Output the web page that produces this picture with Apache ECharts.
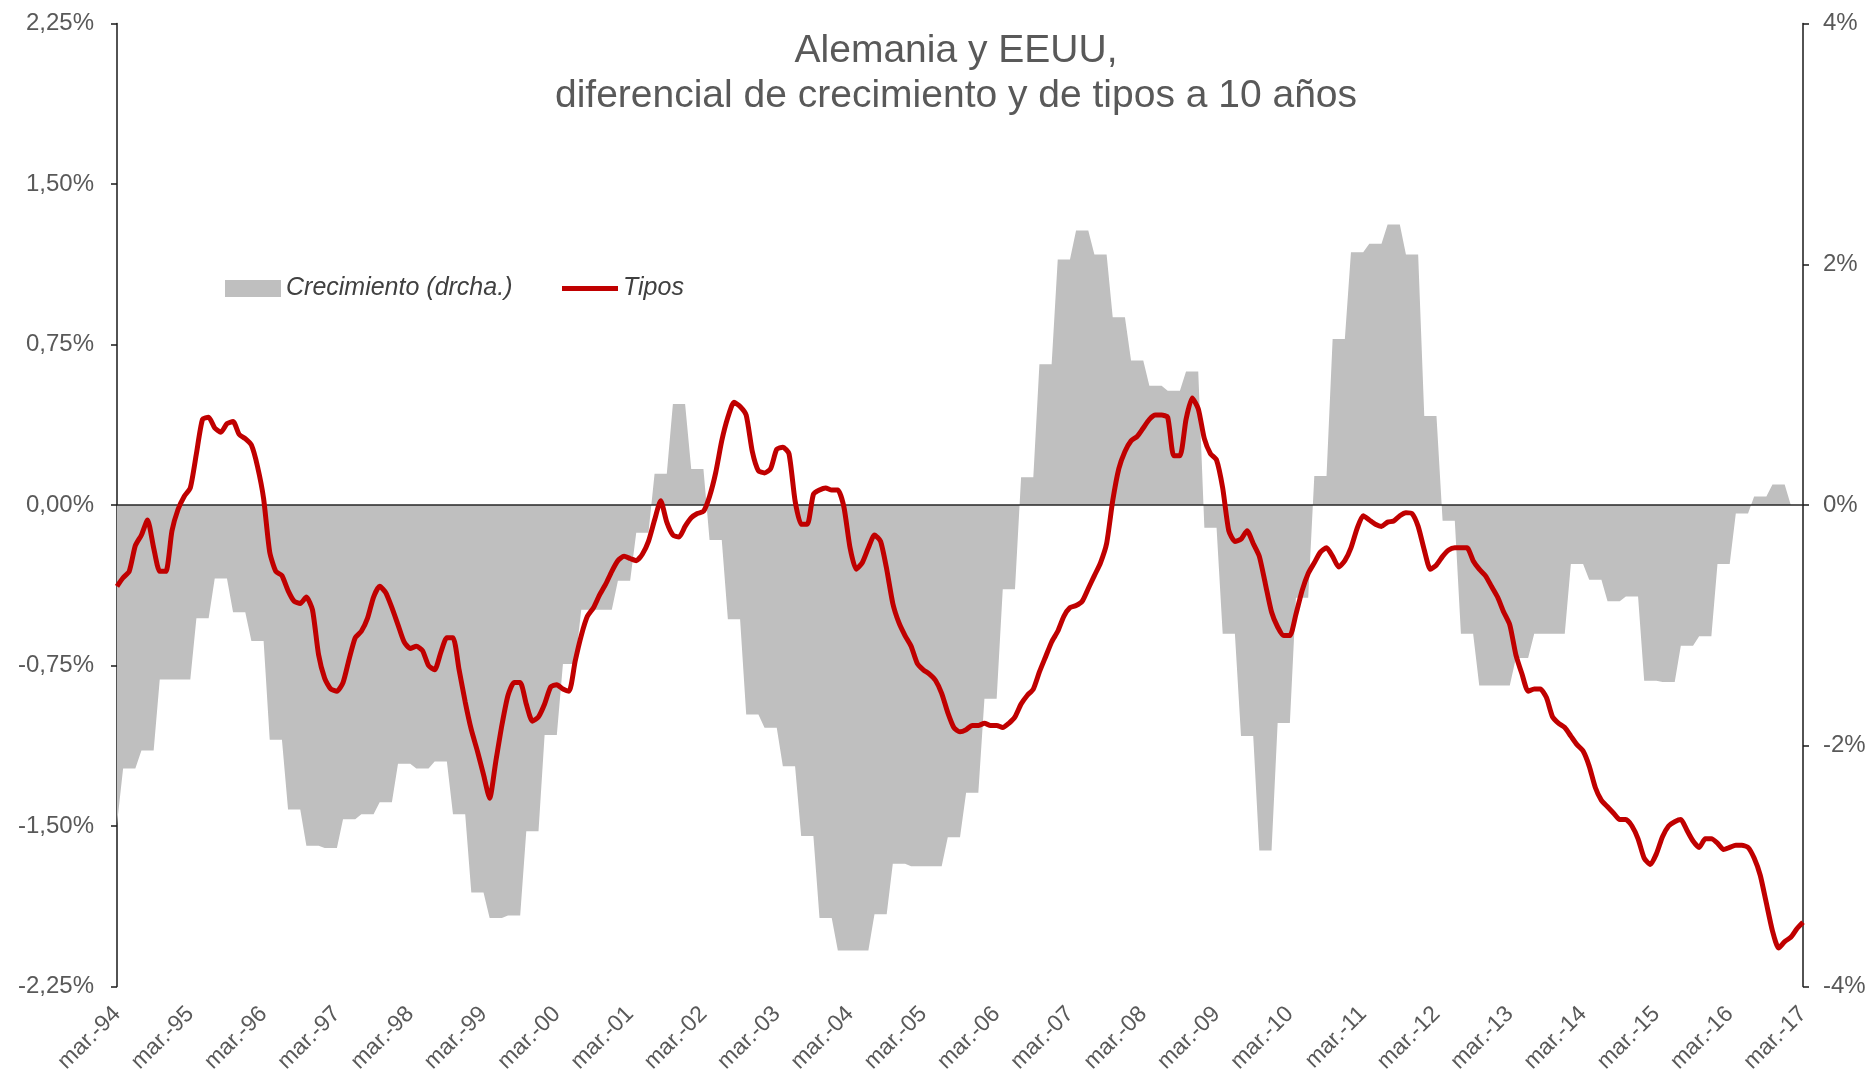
<!DOCTYPE html>
<html>
<head>
<meta charset="utf-8">
<script src="https://cdn.jsdelivr.net/npm/echarts@6/dist/echarts.min.js"></script>
<style>
  html, body { margin: 0; padding: 0; background: #fff; }
  #chart { width: 1870px; height: 1081px; }
</style>
</head>
<body>
<div id="chart"></div>
<script>
// eje X: meses de mar.-94 a mar.-17, etiqueta cada marzo
const years = ['94', '95', '96', '97', '98', '99', '00', '01', '02', '03', '04', '05',
  '06', '07', '08', '09', '10', '11', '12', '13', '14', '15', '16', '17'];
const monthNames = ['mar.', 'abr.', 'may.', 'jun.', 'jul.', 'ago.', 'sept.', 'oct.', 'nov.', 'dic.', 'ene.', 'feb.'];

// diferencial de tipos a 10 años (eje izq., %), mensual
const tipos = [
  -0.38, -0.34, -0.31, -0.19, -0.14, -0.07, -0.20, -0.31, -0.31, -0.12, -0.02, 0.04,
  0.08, 0.24, 0.40, 0.41, 0.36, 0.34, 0.38, 0.39, 0.33, 0.31, 0.28, 0.18,
  0.03, -0.22, -0.31, -0.33, -0.40, -0.45, -0.46, -0.43, -0.49, -0.70, -0.81, -0.86,
  -0.87, -0.83, -0.72, -0.62, -0.59, -0.53, -0.43, -0.38, -0.41, -0.48, -0.56, -0.64,
  -0.67, -0.66, -0.68, -0.75, -0.77, -0.69, -0.62, -0.62, -0.77, -0.92, -1.05, -1.15,
  -1.26, -1.37, -1.20, -1.03, -0.89, -0.83, -0.83, -0.93, -1.01, -0.99, -0.93, -0.85,
  -0.84, -0.86, -0.87, -0.73, -0.61, -0.52, -0.48, -0.42, -0.37, -0.31, -0.26, -0.24,
  -0.25, -0.26, -0.23, -0.17, -0.07, 0.02, -0.08, -0.14, -0.15, -0.10, -0.06, -0.04,
  -0.03, 0.04, 0.15, 0.30, 0.41, 0.48, 0.46, 0.42, 0.25, 0.16, 0.15, 0.17,
  0.26, 0.27, 0.24, 0.02, -0.09, -0.09, 0.05, 0.07, 0.08, 0.07, 0.07, -0.01,
  -0.20, -0.30, -0.27, -0.20, -0.14, -0.17, -0.30, -0.46, -0.55, -0.61, -0.66, -0.74,
  -0.77, -0.79, -0.82, -0.88, -0.97, -1.04, -1.06, -1.05, -1.03, -1.03, -1.02, -1.03,
  -1.03, -1.04, -1.02, -0.99, -0.93, -0.89, -0.86, -0.78, -0.71, -0.64, -0.59, -0.52,
  -0.48, -0.47, -0.45, -0.39, -0.33, -0.27, -0.18, 0.02, 0.17, 0.25, 0.30, 0.32,
  0.36, 0.40, 0.42, 0.42, 0.41, 0.23, 0.23, 0.40, 0.50, 0.45, 0.31, 0.24,
  0.21, 0.08, -0.12, -0.17, -0.16, -0.12, -0.18, -0.24, -0.37, -0.50, -0.57, -0.61,
  -0.61, -0.51, -0.40, -0.32, -0.27, -0.22, -0.20, -0.24, -0.29, -0.26, -0.20, -0.11,
  -0.05, -0.07, -0.09, -0.10, -0.08, -0.075, -0.05, -0.036, -0.04, -0.10, -0.21, -0.30,
  -0.28, -0.24, -0.21, -0.20, -0.20, -0.20, -0.26, -0.30, -0.33, -0.38, -0.43, -0.50,
  -0.56, -0.70, -0.79, -0.87, -0.86, -0.86, -0.90, -0.99, -1.02, -1.04, -1.08, -1.12,
  -1.15, -1.22, -1.32, -1.38, -1.41, -1.44, -1.47, -1.47, -1.50, -1.56, -1.65, -1.68,
  -1.63, -1.55, -1.50, -1.48, -1.47, -1.52, -1.57, -1.60, -1.56, -1.56, -1.58, -1.61,
  -1.60, -1.59, -1.59, -1.60, -1.65, -1.73, -1.86, -1.99, -2.07, -2.04, -2.02, -1.98,
  -1.95
];

// diferencial de crecimiento (eje dcho., %): primer mes y luego un valor por trimestre
const crecimientoInicio = -2.65;
const crecimientoTrim = [
  -2.19, -2.04, -1.45, -1.45, -0.94, -0.61, -0.89, -1.13, -1.95, -2.53, -2.83, -2.85,
  -2.61, -2.57, -2.47, -2.15, -2.19, -2.13, -2.57, -3.22, -3.43, -3.41, -2.71, -1.91,
  -1.32, -0.87, -0.87, -0.63, -0.23, 0.26, 0.84, 0.30, -0.29, -0.95, -1.74, -1.85,
  -2.17, -2.75, -3.43, -3.70, -3.70, -3.40, -2.98, -3.00, -3.00, -2.76, -2.39, -1.61,
  -0.70, 0.23, 1.17, 2.04, 2.28, 2.08, 1.56, 1.20, 0.99, 0.95, 1.11, -0.19,
  -1.07, -1.92, -2.87, -1.81, -0.77, 0.24, 1.38, 2.10, 2.17, 2.33, 2.08, 0.74,
  -0.13, -1.07, -1.50, -1.50, -1.27, -1.07, -1.07, -0.49, -0.62, -0.80, -0.76, -1.46,
  -1.47, -1.17, -1.09, -0.49, -0.07, 0.07, 0.17, 0
];

const leftTicks = { min: -2.25, max: 2.25, interval: 0.75 };
const rightTicks = { min: -4, max: 4, interval: 2 };

// categorías mensuales
const categories = [];
years.forEach((y, i) => {
  monthNames.forEach((m, j) => {
    if (i === years.length - 1 && j > 0) return;
    const yy = j < 10 ? y : years[i + 1];
    categories.push(m + '-' + yy);
  });
});

// cada valor trimestral ocupa sus tres meses
const crecimiento = [crecimientoInicio];
crecimientoTrim.forEach(v => { crecimiento.push(v, v, v); });

const FONT = '"Liberation Sans", Arial, sans-serif';
const legendText = { fontFamily: FONT, fontSize: 25, fontStyle: 'italic', color: '#404040' };
const chart = echarts.init(document.getElementById('chart'), null, { renderer: 'canvas' });

chart.setOption({
  animation: false,
  backgroundColor: '#ffffff',
  title: {
    text: 'Alemania y EEUU,\ndiferencial de crecimiento y de tipos a 10 años',
    left: 956,
    top: 29,
    textAlign: 'center',
    padding: 0,
    textStyle: {
      fontFamily: FONT,
      fontSize: 39,
      lineHeight: 45,
      fontWeight: 'normal',
      color: '#595959',
    },
  },
  legend: [
    {
      data: ['Crecimiento (drcha.)'],
      left: 225,
      top: 276,
      padding: 0,
      icon: 'rect',
      itemWidth: 56,
      itemHeight: 17,
      selectedMode: false,
      textStyle: legendText,
    },
    {
      data: ['Tipos'],
      left: 562,
      top: 276,
      padding: 0,
      icon: 'rect',
      itemWidth: 56,
      itemHeight: 5,
      selectedMode: false,
      textStyle: legendText,
    },
  ],
  grid: {
    left: 117,
    right: 67,
    top: 23.5,
    bottom: 94.5,
    containLabel: false,
    outerBoundsMode: 'none',
  },
  xAxis: {
    type: 'category',
    data: categories,
    boundaryGap: false,
    axisLine: { show: false },
    axisTick: { show: false },
    splitLine: { show: false },
    axisLabel: {
      interval: (idx) => idx % 12 === 0,
      rotate: 45,
      margin: 24,
      fontFamily: FONT,
      fontSize: 23,
      color: '#595959',
    },
  },
  yAxis: [
    {
      type: 'value',
      position: 'left',
      min: leftTicks.min,
      max: leftTicks.max,
      interval: leftTicks.interval,
      axisLine: { show: true, lineStyle: { color: '#1a1a1a', width: 1.5 } },
      axisTick: { show: true, length: 6, lineStyle: { color: '#1a1a1a', width: 1.5 } },
      splitLine: { show: false },
      axisLabel: {
        margin: 23,
        fontFamily: FONT,
        fontSize: 24,
        color: '#595959',
        formatter: (v) => v.toFixed(2).replace('.', ',') + '%',
      },
    },
    {
      type: 'value',
      position: 'right',
      min: rightTicks.min,
      max: rightTicks.max,
      interval: rightTicks.interval,
      axisLine: { show: true, lineStyle: { color: '#1a1a1a', width: 1.5 } },
      axisTick: { show: true, length: 6, lineStyle: { color: '#1a1a1a', width: 1.5 } },
      splitLine: { show: false },
      axisLabel: {
        margin: 20,
        fontFamily: FONT,
        fontSize: 24,
        color: '#595959',
        formatter: (v) => Math.round(v) + '%',
      },
    },
  ],
  series: [
    {
      name: 'Crecimiento (drcha.)',
      type: 'line',
      yAxisIndex: 1,
      data: crecimiento,
      symbol: 'none',
      lineStyle: { width: 0 },
      itemStyle: { color: '#BFBFBF' },
      areaStyle: { color: '#BFBFBF', opacity: 1 },
      z: 1,
      markLine: {
        silent: true,
        symbol: ['none', 'none'],
        label: { show: false },
        lineStyle: { color: '#262626', width: 1.5, type: 'solid' },
        data: [{ yAxis: 0 }],
      },
    },
    {
      name: 'Tipos',
      type: 'line',
      yAxisIndex: 0,
      data: tipos,
      symbol: 'none',
      smooth: 0.2,
      lineStyle: { color: '#C00000', width: 5 },
      itemStyle: { color: '#C00000' },
      z: 6,
    },
  ],
});
</script>
</body>
</html>
